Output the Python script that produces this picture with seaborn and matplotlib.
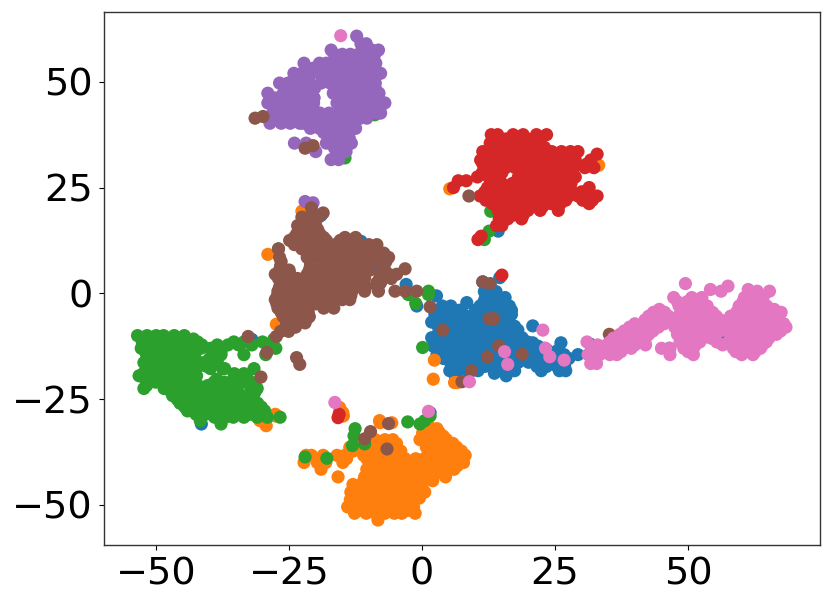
import matplotlib
matplotlib.use('Agg')
import matplotlib.pyplot as plt
import pandas as pd
import seaborn as sns

# Each cluster is a list of (y, [x, x, ...]) rows
blue_rows = [
    (3.7, [14.6]), (2.7, [11.4]), (2.1, [-3.0]), (1.5, [12.9]), (0.4, [11.7, 13.9]),
    (-0.6, [2.7]), (-1.0, [11.9, 13.7, 15.6]), (-3.0, [-1.0, 3.8, 5.4, 10.9, 12.7, 14.5, 16.4]),
    (-2.2, [8.4]), (-2.0, [11.6, 13.4, 15.2]),
    (-4.0, [3.2, 5.0, 7.0, 10.0, 11.8, 13.6, 15.4, 16.8]),
    (-5.0, [2.4, 4.2, 6.0, 7.8, 9.7, 11.4, 13.2, 15.0, 16.8]),
    (-5.9, [2.8, 4.6, 6.6, 8.4, 10.0, 11.9, 13.7, 15.5]),
    (-6.8, [1.8, 3.6, 5.4, 7.2, 9.0, 10.9, 12.7, 14.5, 16.4]),
    (-7.7, [20.8]), (-7.8, [3.0, 4.9, 6.7, 8.5, 10.3, 12.0, 13.8, 15.6, 17.4]),
    (-8.7, [3.8, 5.6, 7.4, 9.2, 11.1, 12.9, 14.8, 16.6, 18.0]),
    (-9.6, [3.0, 4.7, 6.5, 8.3, 10.1, 12.0, 14.0, 16.0, 17.8]),
    (-10.5, [1.8, 3.6, 5.4, 7.2, 9.0, 10.9, 13.4, 15.3, 17.0, 18.8]),
    (-11.5, [3.0, 4.7, 6.5, 8.3, 10.1, 12.5, 14.4, 16.2, 18.0, 19.8]),
    (-11.7, [26.1, 20.8]),
    (-12.5, [2.1, 3.8, 5.6, 7.4, 9.2, 11.1, 12.9, 14.8, 16.6, 18.4, 20.2, 21.8]),
    (-13.0, [23.0, 34.7, 46.5]), (-9.7, [56.4]), (-12.0, [31.6]),
    (-13.5, [3.5, 5.3, 7.0, 8.9, 10.8, 12.6, 14.4, 16.2, 18.2, 20.0, 21.6, 23.6, 25.5]),
    (-14.5, [2.8, 4.6, 6.4, 8.2, 10.1, 11.9, 14.0, 16.0, 17.8, 19.6, 21.4, 23.2, 24.8, 26.7, 29.3]),
    (-15.4, [4.0, 5.8, 7.7, 9.5, 11.4, 13.2, 15.0, 16.9, 18.8, 20.6, 22.4, 24.2, 26.0, 27.6]),
    (-16.3, [5.3, 7.1, 8.9, 10.8, 12.6, 14.4, 16.3, 18.1, 20.0, 22.4, 24.2, 26.2]),
    (-17.3, [6.2, 8.0, 9.9, 11.7, 13.5, 15.5, 17.2, 21.6, 23.4, 25.4, 26.8]),
    (-18.3, [5.2, 6.8, 8.6, 10.5, 13.5, 15.8, 17.4, 22.4, 25.8, 27.0]),
    (-20.0, [6.3]), (-18.9, [13.6]), (-19.5, [15.8]),
    (18.4, [-19.0]), (11.5, [-17.5]), (12.3, [-11.5]), (6.0, [-9.0]), (4.2, [-11.2]),
    (-5.8, [-21.5]), (14.7, [14.3]), (-10.9, [-32.0]), (-30.9, [-41.5]), (-28.2, [1.5]),
]
orange_rows = [
    (30.3, [33.2]), (24.7, [5.2]), (19.4, [-22.6]), (9.2, [-29.0]), (-7.3, [-27.4]),
    (-15.8, [2.3]), (-20.3, [2.1]), (-21.1, [6.1, 6.6]),
    (-27.0, [-15.5]), (-28.2, [-15.5, -14.9]), (-29.0, [-14.8, -27.6]), (-30.1, [-30.5, -8.0]),
    (-28.6, [-27.6]), (-31.3, [-29.3]), (-30.6, [-7.9, -5.7]),
    (-31.7, [1.5]), (-32.0, [2.8]), (-33.0, [0.1, 1.8, 3.3]), (-33.8, [0.9, 2.4, 4.0]),
    (-34.6, [-0.4, 1.3, 3.0, 4.6, -10.4, -8.8, -7.0, -5.5]),
    (-35.5, [-9.9, -8.1, -6.4, -4.8, 0.8, 2.5, 4.2, 5.8]),
    (-36.4, [0.8, 3.1, 4.8, 6.5, -13.6, -11.9, -9.9, -8.2, -6.4, -5.0]),
    (-37.3, [-13.0, -10.8, -9.0, -7.2, -5.4, -4.0, 2.2, 4.0, 5.8, 7.4]),
    (-38.3, [-21.8, -20.8, -18.6, -16.0, -14.5, -11.0, -9.2, -7.4, -5.7, -4.3, 1.1, 2.8, 4.6, 6.5, 8.1]),
    (-39.1, [-14.2, -10.4, -8.6, -6.8, -5.0, -3.2, -1.2, 0.4, 2.2, 4.0, 5.7, 7.4]),
    (-40.0, [-22.2, -19.7, -18.1, -14.9, -9.8, -8.0, -6.2, -4.4, -2.4, -0.4, 1.3, 3.1, 4.9, 6.4, 7.8]),
    (-40.8, [-9.6, -7.8, -6.0, -4.2, -2.4, -0.6, 1.2, 3.0, 4.8, 6.6]),
    (-41.6, [-19.0, -10.4, -8.6, -6.8, -5.0, -3.0, -1.2, 0.6, 2.4, 4.2, 6.0]),
    (-42.5, [-10.2, -8.4, -6.6, -4.8, -3.0, -1.2, 0.6, 2.4, 4.4]),
    (-43.4, [-15.8, -10.8, -9.0, -7.2, -5.4, -3.4, -1.6, 0.2, 2.1, 4.4]),
    (-44.3, [-11.0, -9.2, -7.4, -5.6, -3.8, -2.0, -0.2, 2.0]),
    (-45.2, [-13.0, -11.1, -9.3, -7.5, -5.7, -3.7, -1.9, 0.0]),
    (-46.1, [-12.5, -10.7, -8.9, -7.1, -5.3, -3.5, -1.7, 0.0]),
    (-47.0, [-13.4, -11.6, -9.8, -8.0, -6.2, -4.2, -2.4, 0.5]),
    (-47.9, [-13.1, -11.3, -9.5, -7.7, -5.9, -4.1, -2.3]),
    (-48.4, [-0.5]),
    (-48.8, [-13.5, -11.7, -9.9, -8.1, -6.3, -4.3, -2.5]),
    (-49.6, [-13.4, -11.6, -9.8, -8.0, -6.2, -4.4, -2.6]),
    (-50.5, [-14.0, -12.2, -10.4, -8.6, -6.8, -4.8, -3.0, -1.6]),
    (-51.3, [-11.4, -9.6, -7.8, -6.0, -4.2, -2.6]),
    (-52.0, [-12.7, -10.5, -8.8, -7.0, -5.2, -3.8, -1.3]),
    (-53.6, [-8.3]),
]
green_rows = [
    (32.0, [-14.5]), (42.2, [-8.9]), (19.4, [12.9]), (14.7, [12.6]), (12.7, [11.7]), (10.5, [-27.0]),
    (0.5, [1.2]), (-0.3, [1.2, -2.6]), (-2.4, [-1.2]), (-12.8, [0.1]),
    (-10.0, [-53.5, -51.7, -50.0, -48.6, -46.6, -44.7]),
    (-10.8, [-52.0, -50.2, -48.4, -46.5, -44.6, -43.0]),
    (-11.5, [-52.6, -50.8, -49.0, -47.1, -45.3, -43.4, -42.2, -33.5, -35.4, -30.0]),
    (-10.9, [-27.9]),
    (-12.2, [-52.5, -50.6, -48.8, -46.9, -45.0, -43.1, -41.4, -38.5, -36.5, -34.5, -32.0, -29.0]),
    (-13.0, [-52.8, -51.1, -49.3, -47.4, -45.6, -43.7, -41.6, -39.8, -38.0, -27.5]),
    (-13.8, [-52.0, -50.2, -48.4, -46.6, -44.8, -43.0, -39.0, -37.8]),
    (-14.5, [-51.8, -50.0, -48.2, -46.4, -44.7, -42.8, -39.5, -37.8, -33.5, -29.4]),
    (-15.5, [-51.5, -49.8, -48.0, -46.2, -44.4, -42.6, -40.0, -38.4]),
    (-16.4, [-52.3, -50.6, -48.8, -47.0, -45.2, -43.3, -41.1, -39.2]),
    (-17.2, [-51.0, -49.4, -47.6, -45.8, -44.0, -42.0, -40.6]),
    (-17.8, [-51.8, -50.0, -48.2, -46.4, -44.7, -39.8, -37.5, -37.1, -31.6]),
    (-18.8, [-52.3, -50.2, -48.4, -46.6, -44.8, -43.0]),
    (-19.0, [-33.5, -35.3]),
    (-19.5, [-53.2, -51.2, -49.4, -47.5, -45.7, -43.8, -42.4]),
    (-20.3, [-52.0, -49.9, -48.0, -46.2, -44.4, -42.6, -38.6, -35.5, -32.8]),
    (-21.0, [-50.1, -48.2, -46.4, -44.6, -42.7, -39.1, -37.2, -35.5, -33.9, -32.1]),
    (-21.8, [-51.8, -47.6, -45.8, -44.0, -42.1, -40.3, -38.4, -36.6, -31.5]),
    (-22.5, [-52.3, -48.5, -46.7, -44.9, -43.0, -41.2, -39.4, -37.5, -35.8, -32.2, -31.0]),
    (-23.3, [-47.2, -45.4, -43.6, -41.8, -40.0, -38.2, -36.4, -34.6, -31.4]),
    (-24.2, [-46.9, -45.1, -43.2, -41.4, -39.6, -37.7, -35.9, -34.1, -32.3]),
    (-25.1, [-46.0, -44.2, -42.4, -40.6, -38.8, -37.0, -35.2, -33.4, -31.6]),
    (-26.0, [-45.5, -43.6, -41.8, -40.0, -38.1, -36.3, -34.5, -32.7, -30.9]),
    (-26.9, [-44.6, -42.8, -41.0, -39.2, -37.4, -35.6, -33.8, -32.0, -30.2]),
    (-27.8, [-44.1, -42.2, -40.4, -38.5, -36.7, -34.9, -33.1, -31.3, -29.6]),
    (-28.6, [-42.5, -40.7, -39.5, -37.8, -36.0, -34.2, -32.4, -30.5]),
    (-29.3, [-39.0, -37.0, -35.5, -33.5, -31.0, -29.1, -26.7]),
    (-30.1, [-41.7]), (-30.9, [-37.8]),
    (-38.7, [-22.0]), (-39.0, [-17.9]), (-36.0, [-13.1]), (-35.6, [-10.8]), (-32.0, [-12.6]),
    (-33.7, [-12.8]), (-30.4, [-2.7]), (-30.9, [-0.4]), (-30.1, [0.5]), (-29.0, [1.5]),
]
red_rows = [
    (37.5, [13.0, 14.2, 17.1, 19.0, 21.5, 23.4]),
    (36.5, [13.5, 15.8, 17.8, 19.8, 21.5]),
    (35.5, [12.8, 14.5, 16.6, 18.3, 20.1, 22.1]),
    (34.5, [13.6, 15.5, 17.3, 19.1, 21.0, 23.0]),
    (33.5, [11.4, 13.3, 15.0, 17.1, 18.9, 20.7, 22.5, 24.4, 26.2, 27.9, 29.3]),
    (32.9, [32.9]),
    (32.5, [11.8, 13.6, 15.4, 17.2, 19.0, 20.8, 22.6, 24.4, 26.2, 28.0]),
    (31.5, [11.0, 12.8, 14.6, 16.5, 18.3, 20.1, 22.0, 23.8, 25.6, 27.5, 28.8, 31.7]),
    (30.6, [11.4, 13.0, 14.8, 16.6, 18.4, 20.2, 22.0, 23.8, 25.6, 27.4, 31.0]),
    (29.7, [12.0, 13.8, 15.7, 17.5, 19.3, 21.1, 23.0, 24.8, 26.6, 28.5, 32.3, 30.6]),
    (28.5, [11.3, 13.2, 15.0, 18.5, 20.3, 22.2, 24.0, 25.8, 27.6]),
    (27.5, [10.4, 12.5, 14.4, 18.1, 19.9, 21.8, 23.6, 25.4, 27.3, 28.8]),
    (26.6, [6.8, 8.3]),
    (26.0, [13.0, 15.0, 17.0, 18.8, 20.6, 22.4, 24.2, 26.0, 28.0]),
    (25.0, [5.9, 12.3, 14.1, 15.9, 17.7, 19.5, 21.4, 23.2, 25.0, 26.9, 31.4]),
    (24.0, [11.8, 13.7, 15.5, 17.3, 19.1, 21.0, 22.8, 24.6, 26.4, 28.2, 30.0]),
    (23.0, [10.9, 12.8, 14.6, 16.5, 18.3, 20.2, 22.0, 23.8, 25.7, 27.6, 29.3, 31.2, 32.9]),
    (22.0, [12.0, 13.9, 15.7, 17.5, 19.3, 21.1, 23.0, 24.8, 27.0, 30.2, 32.0]),
    (21.2, [13.2, 15.0, 16.9, 18.7, 20.6, 22.4, 24.2, 26.0, 31.4]),
    (20.4, [14.8, 16.6, 18.4, 20.2, 22.6]),
    (19.6, [14.3, 16.1, 18.1, 19.9, 22.2, 25.6]),
    (18.5, [15.0, 17.2, 19.0]),
    (17.6, [14.5, 16.1, 18.7]),
    (16.0, [14.0, 15.0]), (13.5, [11.1]), (12.7, [10.5]),
    (4.3, [15.0]), (7.4, [-7.5]),
    (-28.6, [-15.6]), (-29.4, [-15.8]),
]
purple_rows = [
    (60.8, [-12.3]), (59.0, [-11.5, -10.5]), (57.5, [-17.1, -9.4, -8.2]),
    (56.5, [-16.5, -15.0, -13.5, -12.0, -10.4, -8.9]),
    (55.5, [-15.8, -14.2, -12.7, -11.2, -9.6]),
    (54.4, [-22.2, -19.3, -18.0, -16.5, -14.9, -13.3, -11.6, -10.0, -8.7]),
    (53.2, [-20.5, -18.8, -17.2, -15.6, -13.9, -12.2, -10.5, -9.0]),
    (52.0, [-24.1, -22.6, -21.0, -19.3, -17.5, -15.8, -14.1, -12.4, -10.7, -9.0, -7.8]),
    (50.9, [-23.0, -21.3, -18.4, -16.6, -14.9, -13.0, -11.2, -9.5]),
    (49.7, [-26.8, -25.2, -23.0, -21.1, -19.0, -17.3, -15.5, -13.8, -12.0, -10.2, -8.8]),
    (48.5, [-25.5, -23.7, -21.9, -20.2, -16.0, -14.2, -12.4, -10.6, -8.8]),
    (47.3, [-29.0, -26.1, -24.4, -22.6, -21.0, -16.7, -15.0, -13.2, -11.4, -9.6, -8.1]),
    (46.2, [-27.7, -25.5, -23.7, -21.9, -20.3, -15.5, -13.7, -11.9, -10.1, -8.3]),
    (45.0, [-29.0, -27.1, -25.3, -23.6, -21.8, -20.4, -16.0, -14.3, -12.5, -10.6, -8.9, -7.4, -7.0]),
    (43.8, [-27.6, -25.8, -24.0, -22.2, -20.5, -15.0, -13.2, -11.4, -9.6, -7.9]),
    (42.6, [-28.1, -26.4, -24.6, -22.9, -21.1, -19.2, -17.5, -15.7, -13.9, -12.0, -10.2, -8.4, -7.8]),
    (41.4, [-27.3, -25.5, -23.7, -21.9, -20.0, -18.2, -16.4, -14.6, -12.8, -11.6, -10.4]),
    (40.2, [-28.6, -26.5, -24.8, -23.0, -22.4, -20.6, -18.7, -16.9, -15.1, -13.3]),
    (39.0, [-21.0, -19.3, -17.5, -15.8, -14.0, -12.5]),
    (38.0, [-18.5, -16.7, -15.0, -13.7]),
    (36.7, [-17.2, -15.4, -13.7]),
    (35.5, [-24.0, -21.8, -18.0, -16.2, -13.5, -13.3]),
    (34.4, [-16.5, -14.7]),
    (33.5, [-20.0, -16.1, -14.3]),
    (31.6, [-17.1, -15.7]),
    (21.7, [-22.0]), (21.4, [-20.5]),
]
brown_rows = [
    (41.4, [-31.4]), (41.8, [-29.9]), (34.3, [-22.0]), (34.9, [-20.5]), (23.0, [8.8]),
    (20.2, [-20.8]), (19.0, [-18.6]),
    (18.0, [-22.6, -21.1, -19.5]), (17.0, [-22.2, -20.5]), (16.0, [-23.4, -21.8, -20.0]),
    (15.0, [-23.0, -21.3, -19.6]), (14.0, [-23.6, -22.1, -20.5, -19.2]),
    (13.2, [-24.0, -22.3, -20.5, -18.5, -14.5, -12.5]),
    (12.5, [-24.9, -23.1, -21.4, -19.7, -18.0, -15.4, -13.7, -12.3]),
    (11.5, [-24.0, -22.0, -20.0, -18.4, -16.4, -13.6, -11.8, -10.0, -8.5]),
    (10.5, [-27.0, -22.6, -20.8, -19.0, -17.2, -14.2, -12.4, -10.6, -8.6]),
    (9.5, [-21.6, -20.0, -18.2, -16.4, -13.2, -11.2, -9.2, -7.2]),
    (8.5, [-26.8, -21.6, -19.5, -17.7, -15.7, -13.9, -12.1, -10.2, -8.3, -6.3]),
    (7.5, [-26.5, -21.0, -17.5, -16.0, -14.2, -12.4, -10.6, -8.8, -6.8]),
    (6.5, [-26.6, -21.0, -18.4, -16.9, -15.4, -13.6, -11.8, -10.0]),
    (5.8, [-3.2]),
    (5.5, [-26.8, -25.0, -21.2, -20.0, -17.0, -15.2, -13.4, -11.6, -9.8, -7.0]),
    (4.5, [-27.6, -26.1, -24.8, -21.6, -20.0, -18.3, -16.4, -14.6, -12.8, -10.9, -7.8, -6.3, -4.8]),
    (3.5, [-27.0, -25.2, -23.4, -21.6, -19.8, -18.0, -16.1, -14.3, -12.5, -10.8, -8.0, -5.8]),
    (2.5, [-26.6, -24.6, -22.8, -21.0, -19.1, -17.2, -15.4, -13.6, -11.8, -8.5, -7.8]),
    (2.7, [11.4]), (2.3, [12.8]),
    (1.5, [-26.8, -25.0, -23.2, -21.4, -19.6, -17.8, -16.0, -14.2, -12.4, -10.6, -8.3]),
    (0.5, [-27.1, -25.4, -23.6, -21.8, -19.9, -18.1, -16.2, -14.4, -13.2, -10.8, -8.2, -5.1, -3.2, -1.0]),
    (-0.5, [-27.2, -25.4, -23.6, -21.8, -20.0, -18.2, -16.4, -14.6, -13.4]),
    (-1.5, [-27.6, -25.9, -24.1, -22.3, -20.6, -18.7, -17.0, -15.0, -13.6]),
    (-2.5, [-27.3, -25.5, -23.7, -21.9, -20.0, -18.6, -17.0]),
    (-3.2, [1.5]),
    (-3.5, [-27.1, -25.3, -23.6, -21.8, -18.5, -16.6]),
    (-4.5, [-26.5, -24.8, -23.0, -21.4]),
    (-5.5, [-26.1, -24.4, -22.6, -21.2]), (-6.2, [-25.6, -23.8, -22.2]), (-7.0, [-25.4, -23.6, -22.0]),
    (-8.0, [-25.6, -23.8]), (-9.0, [-26.6, -25.1]), (-10.2, [-27.4, -32.7]),
    (-14.0, [-29.2]), (-15.2, [-23.6]), (-16.8, [-23.0]), (-19.8, [-30.3]),
    (-6.0, [12.6, 13.5]), (-8.7, [3.9]), (-9.7, [35.2]), (-12.4, [14.4]), (-15.0, [12.3]),
    (-14.4, [18.8]), (-18.3, [9.3]), (-20.9, [7.5]),
    (-32.7, [-9.7]), (-34.4, [-10.8]), (-36.8, [-6.6]), (-30.8, [-6.3]),
]
pink_rows = [
    (60.9, [-15.3]), (-8.7, [22.7]), (-13.0, [23.2]), (-15.0, [24.0]), (-15.8, [26.7]),
    (-13.8, [15.5]), (-16.8, [16.1]), (-20.9, [8.9]), (-25.8, [-16.4]), (-27.9, [1.2]),
    (2.3, [49.5]), (1.7, [57.5]), (0.9, [54.2, 61.3]), (0.5, [56.2, 63.0, 65.3]),
    (-1.0, [47.3, 50.7, 52.6, 60.6, 62.4, 64.1]),
    (-2.0, [48.0, 49.8, 51.6, 60.3, 62.0, 63.8]),
    (-3.0, [48.3, 50.1, 51.9, 53.6, 59.6, 61.4, 63.1, 64.8]),
    (-3.8, [44.6, 49.2, 51.0, 52.8, 59.5, 61.2, 63.0, 64.7, 66.2]),
    (-4.5, [43.5, 45.6, 49.5, 51.3, 53.0, 54.6, 59.1, 60.8, 62.6, 64.3, 66.0, 67.5]),
    (-5.4, [42.6, 44.5, 46.3, 48.2, 50.0, 51.8, 53.5, 55.3, 58.0, 59.8, 61.6, 63.4, 65.2, 67.0]),
    (-6.3, [41.9, 43.6, 45.4, 47.2, 49.0, 50.7, 52.6, 54.4, 56.1, 57.9, 59.6, 61.4, 63.1, 64.9, 66.6]),
    (-7.2, [40.0, 41.8, 43.6, 45.5, 48.2, 50.0, 51.8, 53.6, 55.4, 57.2, 59.0, 60.8, 62.6, 64.4, 66.2, 68.0]),
    (-8.0, [39.0, 40.8, 42.6, 44.4, 47.5, 49.3, 51.0, 52.9, 54.6, 56.4, 58.1, 59.9, 61.6, 63.4, 65.1, 66.9, 68.4]),
    (-8.9, [38.0, 39.8, 41.6, 43.4, 48.6, 50.4, 52.2, 54.0, 56.0, 58.6, 60.4, 62.2, 64.0, 65.8, 67.4]),
    (-9.7, [37.2, 39.0, 40.8, 42.6, 48.0, 49.8, 51.5, 53.4, 55.1, 58.1, 59.9, 61.6, 63.1, 64.9, 66.6]),
    (-10.6, [36.0, 37.9, 39.7, 41.5, 49.0, 50.9, 52.7, 54.3, 58.0, 59.8, 61.6, 63.4, 65.2]),
    (-11.5, [31.0, 35.3, 37.0, 38.8, 40.6, 41.9, 48.5, 50.3, 52.2, 55.4, 57.6, 59.4, 60.6, 62.6, 64.7]),
    (-12.2, [33.0, 34.7, 36.4, 38.2, 40.0, 42.0, 49.5, 51.4, 56.5, 58.7, 60.5, 62.4, 64.0]),
    (-13.0, [32.2, 34.1, 35.8, 37.6, 39.3, 45.0, 46.6, 49.2, 51.0, 58.5, 60.2, 62.0, 63.6]),
    (-13.8, [32.0, 34.0, 35.8, 37.4, 50.0, 59.0, 60.8, 62.6]),
    (-14.5, [31.2, 33.4, 35.3, 36.6, 46.6, 51.0, 60.1, 62.2]),
    (-16.6, [31.7, 32.8]),
]

names = ['0', '1', '2', '3', '4', '5', '6']
clusters = [blue_rows, orange_rows, green_rows, red_rows, purple_rows, brown_rows, pink_rows]

records = []
for name, rows in zip(names, clusters):
    for y, xs in rows:
        for x in xs:
            records.append({'x': x, 'y': y, 'label': name})
df = pd.DataFrame(records)

sns.set_style('ticks', {'text.color': 'black', 'xtick.color': 'black', 'ytick.color': 'black', 'axes.edgecolor': '.2'})
plt.rcParams['font.family'] = ['DejaVu Sans']

fig = plt.figure(figsize=(8.31, 6.05), dpi=100)
ax = fig.add_axes([104 / 831, 1 - 545 / 605, 716 / 831, 533 / 605])

# rows keep class order, so later classes sit on top like in the original
sns.scatterplot(data=df, x='x', y='y', hue='label', palette=sns.color_palette('tab10', 7),
                s=90, linewidth=0, legend=False, ax=ax)

ax.set_xlim(-59.8, 74.8)
ax.set_ylim(-59.5, 66.5)
ax.set_xticks([-50, -25, 0, 25, 50])
ax.set_yticks([-50, -25, 0, 25, 50])
ax.tick_params(labelsize=27.5, length=3.5, width=0.8, pad=4.5)
ax.set_xlabel('')
ax.set_ylabel('')
for spine in ax.spines.values():
    spine.set_visible(True)
    spine.set_linewidth(1.0)

plt.savefig('out.png', dpi=100)
plt.close()
